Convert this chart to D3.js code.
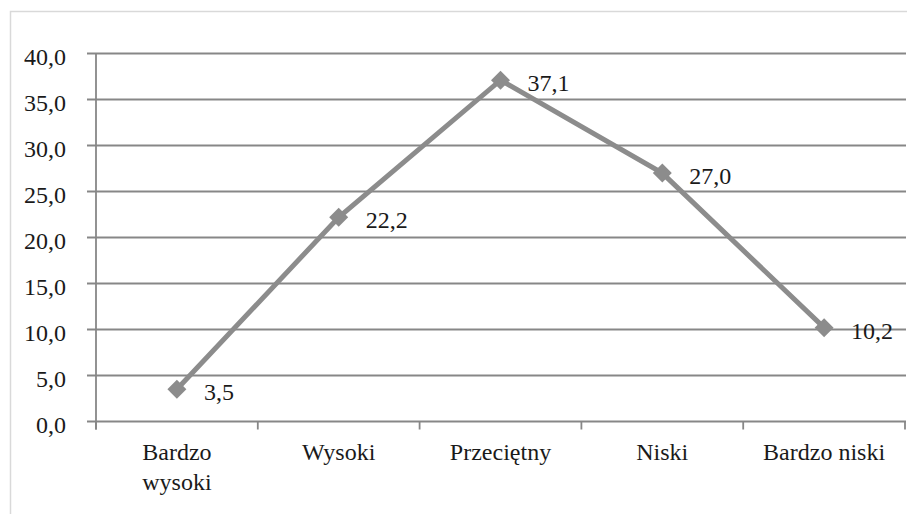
<!DOCTYPE html>
<html>
<head>
<meta charset="utf-8">
<script src="https://cdn.jsdelivr.net/npm/d3@7"></script>
<style>
  html, body { margin: 0; padding: 0; background: #fff; }
  svg { display: block; }
</style>
</head>
<body>
<svg id="chart" width="907" height="514"></svg>
<script>
const categories = [["Bardzo", "wysoki"], ["Wysoki"], ["Przeciętny"], ["Niski"], ["Bardzo niski"]];
const values = [3.5, 22.2, 37.1, 27.0, 10.2];
const yTicks = [0, 5, 10, 15, 20, 25, 30, 35, 40];

(function () {
const svg = d3.select("#chart");
const pLeft = 96, pRight = 905, pTop = 53.5, pBottom = 421.5;
const FONT = "Liberation Serif";

// chart border
svg.append("rect")
  .attr("x", 10.5).attr("y", 11.5)
  .attr("width", 1000).attr("height", 1000)
  .attr("fill", "none").attr("stroke", "#d9d9d9").attr("stroke-width", 1.5);

const x = d3.scaleBand().domain(d3.range(categories.length)).range([pLeft, pRight]).padding(0);
const y = d3.scaleLinear().domain([0, 40]).range([pBottom, pTop]);

const fmt = v => v.toFixed(1).replace(".", ",");

// gridlines
svg.append("g").selectAll("line").data(yTicks).join("line")
  .attr("x1", pLeft - 9).attr("x2", pRight + 1)
  .attr("y1", d => y(d)).attr("y2", d => y(d))
  .attr("stroke", "#878787").attr("stroke-width", 1.8);

// y axis line
svg.append("line")
  .attr("x1", pLeft).attr("x2", pLeft)
  .attr("y1", pTop).attr("y2", pBottom + 8)
  .attr("stroke", "#878787").attr("stroke-width", 1.8);

const txt = sel => sel.attr("font-family", FONT).attr("font-size", 24).attr("fill", "#1a1a1a");

// y tick labels
svg.append("g").selectAll("text").data(yTicks).join("text")
  .attr("x", 66).attr("y", d => y(d) + 11)
  .attr("text-anchor", "end")
  .call(txt)
  .text(d => fmt(d));

// x ticks
const xt = d3.range(categories.length + 1).map(i => i < categories.length ? x(i) : pRight);
svg.append("g").selectAll("line").data(xt).join("line")
  .attr("x1", d => d).attr("x2", d => d)
  .attr("y1", pBottom).attr("y2", pBottom + 8)
  .attr("stroke", "#878787").attr("stroke-width", 1.8);

// x labels
const xl = svg.append("g").selectAll("text").data(categories).join("text")
  .attr("x", (d, i) => x(i) + x.bandwidth() / 2)
  .attr("y", 460)
  .attr("text-anchor", "middle")
  .call(txt);
xl.each(function (d) {
  const t = d3.select(this);
  d.forEach((ln, j) => {
    t.append("tspan")
      .attr("x", t.attr("x"))
      .attr("dy", j === 0 ? 0 : 30)
      .text(ln);
  });
});

// line
const cx = i => x(i) + x.bandwidth() / 2;
const line = d3.line().x((d, i) => cx(i)).y(d => y(d));
svg.append("path").datum(values)
  .attr("d", line)
  .attr("fill", "none")
  .attr("stroke", "#8c8c8c")
  .attr("stroke-width", 5)
  .attr("stroke-linejoin", "miter");

// markers
svg.append("g").selectAll("path").data(values).join("path")
  .attr("transform", (d, i) => `translate(${cx(i)},${y(d)}) rotate(45)`)
  .attr("d", d3.symbol().type(d3.symbolSquare).size(180))
  .attr("fill", "#8c8c8c");

// value labels
svg.append("g").selectAll("text").data(values).join("text")
  .attr("x", (d, i) => cx(i) + 27)
  .attr("y", d => y(d) + 11)
  .call(txt)
  .text(d => fmt(d));
})();
</script>
</body>
</html>
